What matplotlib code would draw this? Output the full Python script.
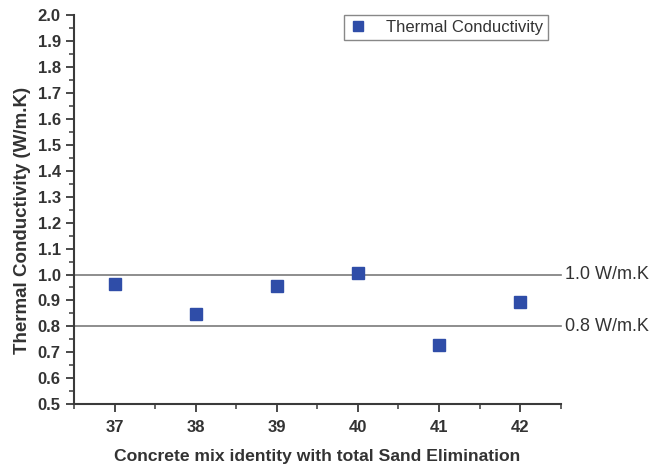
import matplotlib
matplotlib.use("Agg")
import matplotlib.pyplot as plt
from matplotlib.ticker import MultipleLocator

# Thermal conductivity of mixes with total sand elimination
mix_ids = [37, 38, 39, 40, 41, 42]
conductivity = [0.965, 0.847, 0.955, 1.004, 0.730, 0.893]

# Reference limits
limit_values = [1.0, 0.8]
limit_labels = ["1.0 W/m.K", "0.8 W/m.K"]

text_color = "#333333"
plt.rcParams["font.family"] = ["Liberation Sans", "DejaVu Sans"]

fig = plt.figure(figsize=(6.54, 4.69), dpi=100)
ax = fig.add_axes([0.1131, 0.138, 0.7442, 0.830])

ax.plot(mix_ids, conductivity, linestyle="none", marker="s", markersize=8.5,
        color="#2F4DA8", label="Thermal Conductivity", zorder=3)

ax.set_xlim(36.5, 42.5)
ax.set_ylim(0.5, 2.0)

for val, lab in zip(limit_values, limit_labels):
    ax.plot([36.5, 42.5], [val, val], color="#7a7a7a", lw=1.2, clip_on=False, zorder=2)
    ax.annotate(lab, xy=(1.0, val), xycoords=("axes fraction", "data"),
                xytext=(3, 0), textcoords="offset points",
                ha="left", va="center", fontsize=13, color=text_color)

ax.xaxis.set_major_locator(MultipleLocator(1))
ax.xaxis.set_minor_locator(MultipleLocator(0.5))
ax.yaxis.set_major_locator(MultipleLocator(0.1))
ax.yaxis.set_minor_locator(MultipleLocator(0.05))
ax.yaxis.set_major_formatter(matplotlib.ticker.FormatStrFormatter("%.1f"))

for s in ["top", "right"]:
    ax.spines[s].set_visible(False)
for s in ["left", "bottom"]:
    ax.spines[s].set_color("#3a3a3a")
    ax.spines[s].set_linewidth(1.5)

ax.tick_params(which="major", direction="out", length=6, width=1.3,
               color="#3a3a3a", labelcolor=text_color, labelsize=12)
ax.tick_params(axis="x", which="major", pad=5.5)
ax.tick_params(which="minor", direction="out", length=3.5, width=1.1, color="#3a3a3a")
for lbl in ax.get_xticklabels() + ax.get_yticklabels():
    lbl.set_fontweight("bold")

ax.set_xlabel("Concrete mix identity with total Sand Elimination",
              fontsize=12.6, fontweight="bold", color=text_color, labelpad=10)
ax.set_ylabel("Thermal Conductivity (W/m.K)",
              fontsize=13.5, fontweight="bold", color=text_color)
ax.yaxis.set_label_coords(-0.0884, 0.471)

leg = ax.legend(loc="upper right", bbox_to_anchor=(0.974, 1.0), borderaxespad=0,
                fontsize=12, fancybox=False, framealpha=1, edgecolor="#888888",
                handlelength=1.0, handletextpad=1.2, borderpad=0.3, markerscale=0.9)
leg.get_frame().set_linewidth(1.0)
for t in leg.get_texts():
    t.set_color(text_color)

fig.savefig("out.png", dpi=100)
